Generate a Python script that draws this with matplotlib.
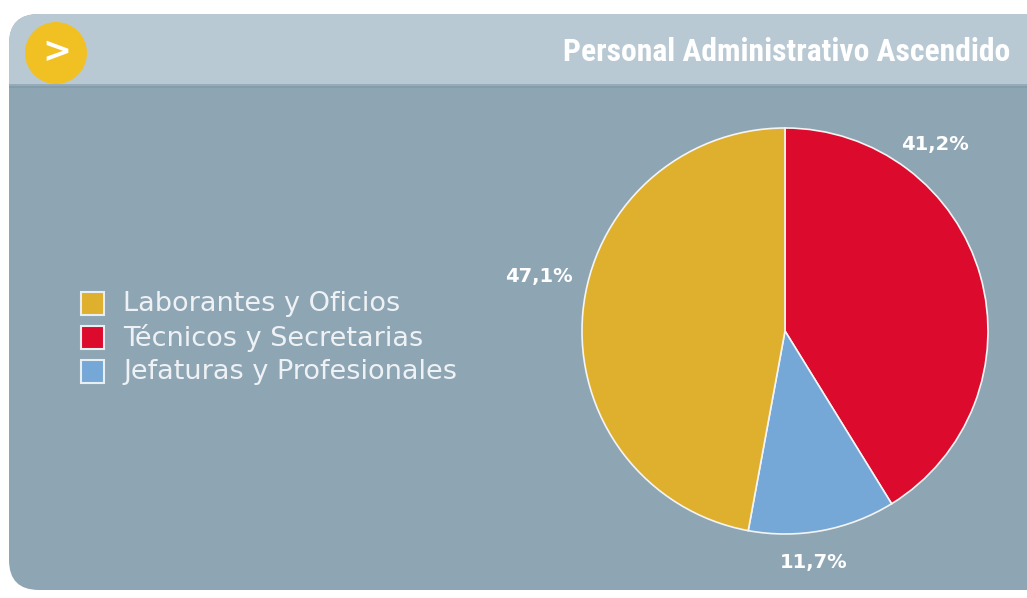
import numpy as np
import matplotlib.pyplot as plt
from matplotlib import font_manager
from matplotlib.patches import FancyBboxPatch, Rectangle, Circle

# data
categories = ['Laborantes y Oficios', 'Técnicos y Secretarias', 'Jefaturas y Profesionales']
shares = [47.1, 41.2, 11.7]
colors = ['#dfb02e', '#dc0a2c', '#75a8d6']
pct_labels = ['47,1%', '41,2%', '11,7%']
title = 'Personal Administrativo Ascendido'

W, H = 1027, 598
fig = plt.figure(figsize=(W / 100, H / 100), dpi=100)
fig.patch.set_facecolor('white')

# pick a narrow font if one exists
installed = {f.name for f in font_manager.fontManager.ttflist}
title_font = 'DejaVu Sans'
for cand in ['Roboto Condensed', 'Liberation Sans Narrow', 'Open Sans Condensed', 'DejaVu Sans Condensed']:
    if cand in installed:
        title_font = cand
        break

# background panel in pixel coordinates
bg = fig.add_axes([0, 0, 1, 1])
bg.set_xlim(0, W)
bg.set_ylim(H, 0)
bg.axis('off')

body = FancyBboxPatch((9, 14), 1060, 576, boxstyle='round,pad=0,rounding_size=30',
                      facecolor='#8ea5b4', edgecolor='none')
bg.add_patch(body)
header = Rectangle((0, 0), W + 50, 86, facecolor='#b9c9d3', edgecolor='none')
bg.add_patch(header)
header.set_clip_path(body)
shade = Rectangle((0, 84), W + 50, 4, facecolor='#7f97a6', edgecolor='none', alpha=0.6)
bg.add_patch(shade)
shade.set_clip_path(body)

bg.add_patch(Circle((56, 53), 31, facecolor='#f1c023', edgecolor='none'))
bg.text(57, 52, '>', color='white', fontsize=25, fontweight='bold',
        ha='center', va='center', family='DejaVu Sans')

# title: shrink the size until it fits the width seen in the reference
t = bg.text(1010, 52, title, color='white', fontsize=30, fontweight='bold',
            ha='right', va='center', family=title_font)
renderer = fig.canvas.get_renderer()
w = t.get_window_extent(renderer).width
if w > 447:
    t.set_fontsize(30 * 447 / w)

# legend drawn by hand
rows_y = [303, 337, 371]
for name, c, y in zip(categories, colors, rows_y):
    bg.add_patch(Rectangle((81, y - 11), 23, 23, facecolor=c, edgecolor='#e8eef2', linewidth=1.5))
    bg.text(123, y + 1, name, color='#eef2f5', fontsize=19.5, ha='left', va='center',
            family='DejaVu Sans')

# pie
cx, cy, r = 785, 331, 203
pax = fig.add_axes([(cx - r) / W, (H - cy - r) / H, 2 * r / W, 2 * r / H])
order = [1, 2, 0]
pax.pie([shares[i] for i in order], colors=[colors[i] for i in order],
        startangle=90, counterclock=False,
        wedgeprops=dict(edgecolor='#f4f4f4', linewidth=1.2))
pax.set_xlim(-1, 1)
pax.set_ylim(-1, 1)
pax.set_aspect('auto')
pax.axis('off')

label_pos = [(-1.21, 0.27), (0.74, 0.92), (0.14, -1.14)]
for txt, (lx, ly) in zip(pct_labels, label_pos):
    pax.text(lx, ly, txt, color='white', fontsize=14, fontweight='bold',
             ha='center', va='center', family='DejaVu Sans')

fig.savefig('out.png', dpi=100, facecolor=fig.get_facecolor())
